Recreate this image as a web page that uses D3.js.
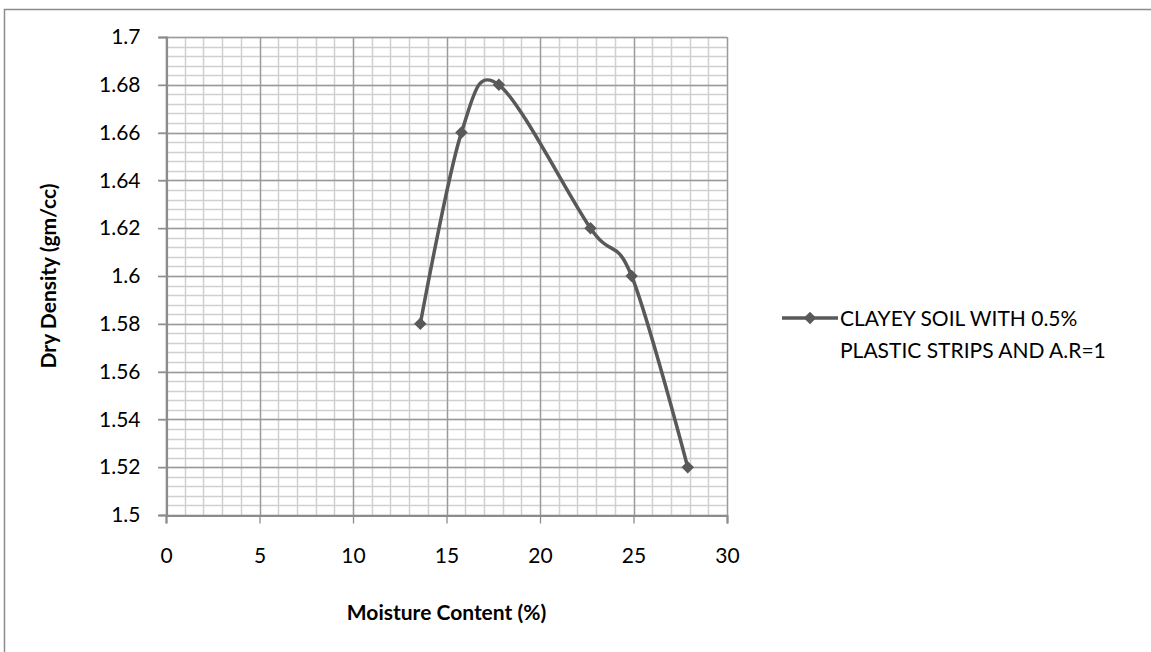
<!DOCTYPE html>
<html>
<head>
<meta charset="utf-8">
<script src="https://cdn.jsdelivr.net/npm/d3@7"></script>
<style>
  html, body { margin: 0; padding: 0; background: #fff; }
  svg { display: block; font-family: Lato, "Open Sans", sans-serif; }
</style>
</head>
<body>
<svg id="chart" width="1151" height="652"></svg>
<script>
// Compaction test: moisture content (%) vs dry density (gm/cc)
const moisture = [13.6, 15.8, 17.8, 22.7, 24.9, 27.9];
const dryDensity = [1.58, 1.66, 1.68, 1.62, 1.60, 1.52];
const xTicks = [0, 5, 10, 15, 20, 25, 30];
const yTicks = [1.5, 1.52, 1.54, 1.56, 1.58, 1.6, 1.62, 1.64, 1.66, 1.68, 1.7];
const seriesName = ["CLAYEY SOIL WITH 0.5%", "PLASTIC STRIPS AND A.R=1"];
const xTitle = "Moisture Content (%)";
const yTitle = "Dry Density (gm/cc)";

const FONT = "Lato, 'Open Sans', sans-serif";
const FS = "21px";

const svg = d3.select("#chart");
const plot = { left: 166, right: 727, top: 37, bottom: 515 };

const x = d3.scaleLinear().domain([0, 30]).range([plot.left, plot.right]);
const y = d3.scaleLinear().domain([1.5, 1.7]).range([plot.bottom, plot.top]);

// outer chart frame
svg.append("rect")
  .attr("x", 4.5).attr("y", 9.5)
  .attr("width", 1200).attr("height", 700)
  .attr("fill", "#fff").attr("stroke", "#8c8c8c").attr("stroke-width", 1.5);

// minor grid
const g = svg.append("g");
const minorX = d3.range(0, 31, 1);
const minorY = d3.range(0, 51).map(i => 1.5 + i * 0.004);
g.selectAll(".mx").data(minorX).join("line")
  .attr("x1", d => Math.round(x(d)) + 0.5).attr("x2", d => Math.round(x(d)) + 0.5)
  .attr("y1", plot.top).attr("y2", plot.bottom)
  .attr("stroke", "#d0d0d0").attr("stroke-width", 1.5);
g.selectAll(".my").data(minorY).join("line")
  .attr("y1", d => Math.round(y(d)) + 0.5).attr("y2", d => Math.round(y(d)) + 0.5)
  .attr("x1", plot.left).attr("x2", plot.right)
  .attr("stroke", "#d0d0d0").attr("stroke-width", 1.5);

// major grid
g.selectAll(".Mx").data(xTicks).join("line")
  .attr("x1", d => Math.round(x(d)) + 0.5).attr("x2", d => Math.round(x(d)) + 0.5)
  .attr("y1", plot.top).attr("y2", plot.bottom)
  .attr("stroke", "#9a9a9a").attr("stroke-width", 1.3);
g.selectAll(".My").data(yTicks).join("line")
  .attr("y1", d => Math.round(y(d)) + 0.5).attr("y2", d => Math.round(y(d)) + 0.5)
  .attr("x1", plot.left - 8).attr("x2", plot.right)
  .attr("stroke", "#9a9a9a").attr("stroke-width", 1.3);

// axes
const xAxis = svg.append("g")
  .attr("transform", `translate(0,${plot.bottom + 0.5})`)
  .call(d3.axisBottom(x).tickValues(xTicks).tickSize(8).tickPadding(25).tickFormat(d3.format("d")));
const yAxis = svg.append("g")
  .attr("transform", `translate(${plot.left + 0.5},0)`)
  .call(d3.axisLeft(y).tickValues(yTicks).tickSize(8).tickPadding(18).tickFormat(d => +d.toFixed(2)));
[xAxis, yAxis].forEach(a => {
  a.attr("font-size", null).attr("font-family", null);
  a.select(".domain").attr("stroke", "#8c8c8c").attr("stroke-width", 2.2);
  a.selectAll(".tick line").attr("stroke", "#8c8c8c").attr("stroke-width", 1.3);
  a.selectAll(".tick text").attr("fill", "#000")
    .style("font-size", FS).style("font-family", FONT);
});

// series
const pts = moisture.map((m, i) => [m, dryDensity[i]]);
const line = d3.line().x(d => x(d[0])).y(d => y(d[1])).curve(d3.curveCardinal.tension(0));
svg.append("path").datum(pts)
  .attr("d", line).attr("fill", "none")
  .attr("stroke", "#595959").attr("stroke-width", 3.5).attr("stroke-linejoin", "round");

const diamond = d3.symbol().type(d3.symbolDiamond2).size(100);
svg.selectAll(".pt").data(pts).join("path")
  .attr("transform", d => `translate(${x(d[0])},${y(d[1])})`)
  .attr("d", diamond).attr("fill", "#595959");

// axis titles
svg.append("text")
  .attr("x", (plot.left + plot.right) / 2).attr("y", 620)
  .attr("text-anchor", "middle").attr("font-weight", "bold")
  .style("font-size", FS).style("font-family", FONT)
  .text(xTitle);
svg.append("text")
  .attr("transform", `translate(56,${(plot.top + plot.bottom) / 2}) rotate(-90)`)
  .attr("text-anchor", "middle").attr("font-weight", "bold")
  .style("font-size", FS).style("font-family", FONT)
  .text(yTitle);

// legend
const lg = svg.append("g").attr("transform", "translate(782,318)");
lg.append("line").attr("x1", 0).attr("x2", 56).attr("y1", 0).attr("y2", 0)
  .attr("stroke", "#595959").attr("stroke-width", 3.5);
lg.append("path").attr("transform", "translate(28,0)").attr("d", diamond).attr("fill", "#595959");
lg.selectAll("text").data(seriesName).join("text")
  .attr("x", 58).attr("y", (d, i) => i * 32).attr("dy", "0.36em")
  .style("font-size", FS).style("font-family", FONT).attr("fill", "#000")
  .text(d => d);
</script>
</body>
</html>
